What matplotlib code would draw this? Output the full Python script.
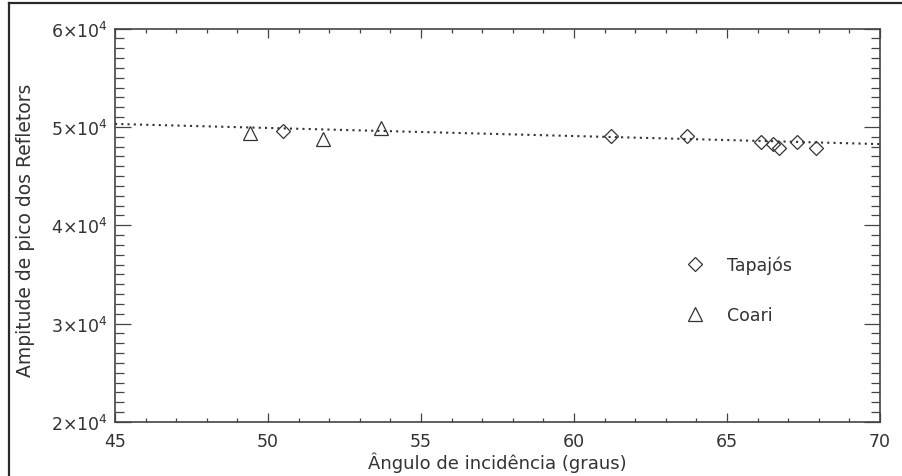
"""
    Amplitude de pico dos refletores vs. ângulo de incidência
"""
import numpy as np
import matplotlib
matplotlib.use('Agg')
import matplotlib.pyplot as plt
from matplotlib.lines import Line2D
from matplotlib.ticker import MultipleLocator, FixedLocator

plt.rcParams['font.family'] = ['DejaVu Sans']
plt.rcParams['mathtext.fontset'] = 'dejavusans'

# dados
tapajos_x = [50.5, 61.2, 63.7, 66.1, 66.5, 66.7, 67.3, 67.9]
tapajos_y = [49550, 49050, 49100, 48450, 48250, 47900, 48450, 47900]
coari_x = [49.4, 51.8, 53.7]
coari_y = [49400, 48800, 49900]
ajuste_x = [45, 70]
ajuste_y = [50300, 48250]

x_ticks = [45, 50, 55, 60, 65, 70]
y_ticks = [20000, 30000, 40000, 50000, 60000]
y_ticklabels = ['2×10$^{4}$', '3×10$^{4}$', '4×10$^{4}$',
                '5×10$^{4}$', '6×10$^{4}$']

cor = '#333333'

fig = plt.figure(figsize=(9.02, 4.77), dpi=100)
ax = fig.add_axes([115 / 902, 1 - 423 / 477, 765 / 902, 393.5 / 477])

# moldura da imagem (topo e esquerda)
fig.add_artist(Line2D([9 / 902, 1], [1 - 3.5 / 477, 1 - 3.5 / 477],
                      transform=fig.transFigure, color='#2a2a2a', lw=1.6))
fig.add_artist(Line2D([9 / 902, 9 / 902], [0, 1 - 3.5 / 477],
                      transform=fig.transFigure, color='#2a2a2a', lw=1.6))

ax.plot(ajuste_x, ajuste_y, color=cor, lw=1.5, linestyle=(0, (1, 2)))
ax.plot(tapajos_x, tapajos_y, 'D', ms=7, mfc='none', mec=cor, mew=0.9,
        linestyle='none', label='Tapajós')
ax.plot(coari_x, coari_y, '^', ms=10, mfc='none', mec=cor, mew=0.9,
        linestyle='none', label='Coari')

ax.set_xlim(45, 70)
ax.set_ylim(20000, 60000)
ax.xaxis.set_major_locator(FixedLocator(x_ticks))
ax.xaxis.set_minor_locator(MultipleLocator(1))
ax.yaxis.set_major_locator(FixedLocator(y_ticks))
ax.yaxis.set_minor_locator(MultipleLocator(1000))
ax.set_yticklabels(y_ticklabels)

ax.tick_params(which='both', direction='in', top=True, right=True,
               color='#444444', width=0.9, labelcolor=cor, labelsize=12.5)
ax.tick_params(axis='x', which='major', length=6.5, pad=7.5)
ax.tick_params(axis='x', which='minor', length=3)
ax.tick_params(axis='y', which='major', length=11.5, pad=5)
ax.tick_params(axis='y', which='minor', length=6.5)
for s in ax.spines.values():
    s.set_color('#444444')
    s.set_linewidth(1.2)

ax.set_xlabel('Ângulo de incidência (graus)', fontsize=13, color=cor)
ax.set_ylabel('Ampitude de pico dos Refletors', fontsize=13.5, color=cor)
ax.xaxis.set_label_coords(0.5, -0.076)
ax.yaxis.set_label_coords(-0.104, 0.49)

ax.legend(loc='center left', bbox_to_anchor=(0.747, 0.335), frameon=False,
          fontsize=12.5, labelcolor=cor, handlelength=1.0, handletextpad=1.35,
          labelspacing=1.85, borderpad=0, borderaxespad=0, numpoints=1)

plt.savefig('out.png', dpi=100, facecolor='white')
